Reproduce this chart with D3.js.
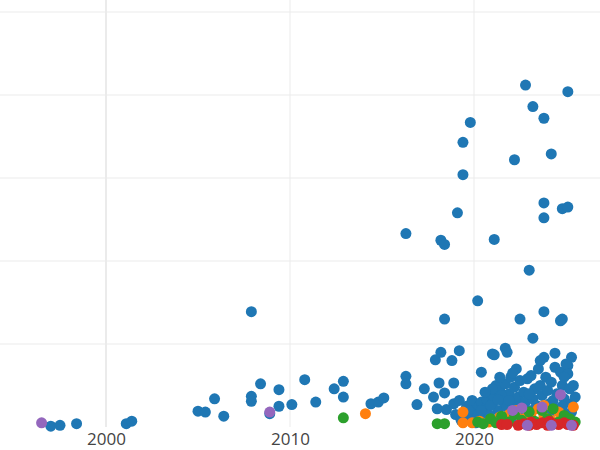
<!DOCTYPE html>
<html>
<head>
<meta charset="utf-8">
<script src="https://cdn.jsdelivr.net/npm/d3@7"></script>
<style>
  body { margin: 0; background: #fff; }
  text { font-family: "Open Sans", sans-serif; }
</style>
</head>
<body>
<div id="chart"></div>
<script>
/* DATA: [year, value] */
const xTicks = [2000, 2010, 2020];
const yTicks = [0, 10, 20, 30, 40, 50];

const bluePoints = [
  [1997.0, 0.1], [1997.5, 0.2], [1998.4, 0.4], [2001.1, 0.4], [2001.4, 0.7],
  [2005.0, 1.9], [2005.4, 1.8], [2005.9, 3.4], [2006.4, 1.3],
  [2007.9, 13.9], [2007.9, 3.7], [2007.9, 3.1], [2008.4, 5.2], [2008.9, 1.6],
  [2009.4, 4.5], [2009.4, 2.5], [2010.1, 2.7], [2010.8, 5.7], [2011.4, 3.0],
  [2012.4, 4.6], [2012.9, 3.6], [2012.9, 5.5], [2014.4, 2.8], [2014.8, 3.0], [2015.1, 3.5],
  [2016.3, 23.3], [2016.3, 6.1], [2016.3, 5.2], [2016.9, 2.7], [2017.3, 4.6],
  [2017.8, 3.6], [2017.9, 8.1], [2018.1, 5.3], [2018.2, 9.0], [2018.2, 22.5],
  [2018.4, 22.0], [2018.4, 13.0], [2018.4, 4.1], [2018.0, 2.2], [2018.5, 2.1],
  [2018.8, 8.0], [2018.9, 5.3], [2019.1, 25.8], [2019.2, 9.2], [2019.4, 34.3],
  [2019.4, 30.4], [2019.8, 36.7], [2019.9, 3.2], [2020.2, 15.2], [2020.4, 6.6],
  [2021.0, 8.8], [2021.1, 8.7], [2021.1, 22.6], [2021.7, 9.5], [2021.8, 9.0],
  [2022.2, 32.2], [2022.5, 13.0], [2022.8, 41.2], [2023.0, 18.9], [2023.2, 38.6],
  [2023.2, 10.7], [2023.8, 37.2], [2023.8, 27.0], [2023.8, 25.2], [2023.8, 13.9],
  [2023.8, 8.4], [2024.2, 32.9], [2024.4, 8.9], [2024.8, 26.3], [2025.1, 26.5],
  [2025.1, 40.4], [2024.8, 13.0], [2024.7, 12.8], [2025.3, 8.4], [2025.1, 7.4],
  [2018.9, 2.8], [2019.0, 1.5], [2019.2, 3.2],
  [2019.3, 0.8], [2019.5, 1.5], [2019.6, 2.5], [2019.8, 1.0], [2019.9, 3.0],
  [2020.0, 2.0], [2020.1, 0.5], [2020.2, 1.5], [2020.3, 2.6], [2020.4, 3.0],
  [2020.5, 1.0], [2020.6, 2.2], [2020.7, 3.3], [2020.8, 1.5], [2020.9, 4.0],
  [2021.0, 2.8], [2021.1, 3.6], [2021.2, 5.0], [2021.3, 2.0], [2021.4, 4.4],
  [2021.5, 1.2], [2021.6, 3.0], [2021.7, 5.2], [2021.8, 2.4], [2021.9, 4.0],
  [2022.0, 6.0], [2022.1, 2.8], [2022.2, 4.8], [2022.3, 1.6], [2022.4, 3.6],
  [2022.5, 5.6], [2022.6, 2.2], [2022.7, 4.2], [2022.8, 3.0], [2022.9, 5.8],
  [2023.0, 1.8], [2023.1, 6.2], [2023.2, 3.4], [2023.3, 4.6], [2023.4, 2.6],
  [2023.5, 7.0], [2023.6, 5.0], [2023.7, 3.8], [2023.8, 1.6], [2023.9, 6.0],
  [2024.0, 4.4], [2024.1, 2.8], [2024.2, 5.4], [2024.3, 3.2], [2024.4, 7.2],
  [2024.5, 4.0], [2024.6, 2.2], [2024.7, 6.6], [2024.8, 5.0], [2024.9, 3.4],
  [2025.0, 7.6], [2025.1, 6.4], [2025.2, 4.6], [2025.3, 2.8], [2025.4, 5.0],
  [2025.5, 3.6], [2021.0, 4.6], [2021.5, 3.8], [2022.0, 1.0], [2023.0, 4.0],
  [2024.0, 1.2], [2025.0, 1.5], [2020.6, 4.2], [2022.3, 7.0], [2023.6, 8.0],
  [2020.4, 2.0], [2020.9, 2.6], [2021.3, 3.3], [2021.9, 3.2], [2022.4, 2.4],
  [2022.9, 2.0], [2023.3, 2.2], [2024.3, 2.0], [2024.8, 2.5], [2025.3, 1.8],
  [2021.4, 6.0], [2022.1, 6.5], [2024.9, 6.0], [2019.7, 2.0]
];
const orangePoints = [
  [2014.1, 1.6], [2019.4, 1.8], [2019.4, 0.5], [2019.9, 0.5], [2020.8, 0.6],
  [2021.4, 1.2], [2021.9, 1.5], [2022.3, 2.0], [2022.7, 1.0], [2023.1, 1.6],
  [2023.5, 2.2], [2023.8, 1.2], [2023.8, 2.6], [2024.2, 0.8], [2024.6, 1.8],
  [2025.4, 2.4], [2025.2, 0.9], [2020.3, 0.7]
];
const greenPoints = [
  [2012.9, 1.1], [2018.0, 0.4], [2018.4, 0.4], [2020.2, 0.6], [2020.5, 0.4],
  [2020.9, 1.0], [2021.2, 0.5], [2021.5, 1.3], [2021.9, 0.6], [2022.2, 1.5],
  [2022.6, 0.8], [2023.0, 1.8], [2023.3, 0.7], [2023.7, 2.0], [2024.0, 1.0],
  [2024.3, 2.2], [2024.6, 0.6], [2024.9, 1.4], [2025.2, 1.0], [2025.5, 0.6]
];
const redPoints = [
  [2021.5, 0.3], [2021.8, 0.3], [2022.4, 0.2], [2022.7, 0.4], [2023.0, 0.2],
  [2023.4, 0.3], [2023.7, 0.5], [2024.0, 0.2], [2024.3, 0.4], [2024.6, 0.3],
  [2024.9, 0.5], [2025.1, 0.3], [2025.4, 0.2], [2023.1, 0.6], [2024.1, 0.7]
];
const purplePoints = [
  [1996.5, 0.5], [2008.9, 1.8], [2022.1, 2.0], [2022.6, 2.3], [2022.9, 0.2],
  [2024.2, 0.2], [2024.7, 3.9], [2025.3, 0.2], [2023.7, 2.4]
];

const series = [
  { points: bluePoints, color: "#1f77b4" },
  { points: orangePoints, color: "#ff7f0e" },
  { points: greenPoints, color: "#2ca02c" },
  { points: redPoints, color: "#d62728" },
  { points: purplePoints, color: "#9467bd" }
];

const width = 600, height = 450;

const x = d3.scaleLinear().domain([2000, 2010]).range([106, 290]);
const y = d3.scaleLinear().domain([0, 50]).range([427, 12]);

const svg = d3.select("#chart").append("svg")
  .attr("width", width).attr("height", height);

// Gridlines
svg.append("g").selectAll("line").data(yTicks.slice(1)).enter().append("line")
  .attr("x1", 0).attr("x2", width)
  .attr("y1", d => y(d)).attr("y2", d => y(d))
  .attr("stroke", "#ebebeb").attr("stroke-width", 1);
svg.append("g").selectAll("line").data(xTicks).enter().append("line")
  .attr("x1", d => x(d)).attr("x2", d => x(d))
  .attr("y1", 0).attr("y2", 427)
  .attr("stroke", "#ebebeb").attr("stroke-width", (d, i) => i === 0 ? 2 : 1);

// X axis labels
const xAxis = svg.append("g").attr("transform", "translate(0,427)")
  .call(d3.axisBottom(x).tickValues(xTicks).tickFormat(d3.format("d")).tickSize(0).tickPadding(6));
xAxis.select(".domain").remove();
xAxis.selectAll("text").attr("font-size", 17).attr("fill", "#444")
  .style("font-family", "'Open Sans', sans-serif");

// Points
series.forEach(s => {
  svg.append("g").selectAll("circle").data(s.points).enter().append("circle")
    .attr("cx", d => x(d[0]))
    .attr("cy", d => y(d[1]))
    .attr("r", 5.5)
    .attr("fill", s.color);
});
</script>
</body>
</html>
